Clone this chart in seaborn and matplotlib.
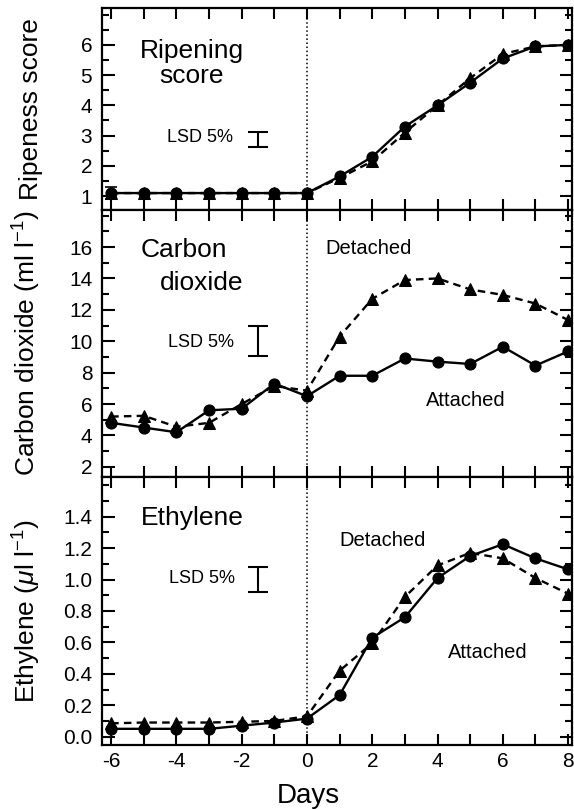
import numpy as np
import pandas as pd
import matplotlib
matplotlib.use("Agg")
import matplotlib.pyplot as plt
from matplotlib.ticker import MultipleLocator, FixedLocator, FuncFormatter
import seaborn as sns

# -------------------------------------------------------------------------
# Data (days relative to harvest/detachment)
# -------------------------------------------------------------------------
days = [-6, -5, -4, -3, -2, -1, 0, 1, 2, 3, 4, 5, 6, 7, 8]

ripe_attached = [1.1, 1.1, 1.1, 1.1, 1.1, 1.1, 1.1, 1.65, 2.3, 3.3, 4.0, 4.75, 5.55, 5.95, 6.0]
ripe_detached = [1.1, 1.1, 1.1, 1.1, 1.1, 1.1, 1.1, 1.6, 2.15, 3.1, 4.0, 4.9, 5.7, 5.95, 6.0]

co2_attached = [4.8, 4.5, 4.2, 5.6, 5.7, 7.3, 6.5, 7.8, 7.8, 8.9, 8.7, 8.55, 9.65, 8.45, 9.35]
co2_detached = [5.2, 5.25, 4.55, 4.8, 6.0, 7.15, 6.85, 10.3, 12.7, 13.9, 14.0, 13.3, 12.95, 12.4, 11.35]

eth_attached = [0.05, 0.05, 0.05, 0.05, 0.07, 0.09, 0.115, 0.265, 0.63, 0.76, 1.01, 1.15, 1.225, 1.135, 1.065]
eth_detached = [0.085, 0.09, 0.09, 0.09, 0.095, 0.1, 0.13, 0.42, 0.595, 0.89, 1.09, 1.17, 1.135, 1.01, 0.91]

# labelled y ticks of each panel
ripe_ticks = [1, 2, 3, 4, 5, 6]
co2_ticks = [2, 4, 6, 8, 10, 12, 14, 16]
eth_ticks = [0.0, 0.2, 0.4, 0.6, 0.8, 1.0, 1.2, 1.4]

# LSD (5%) bars: full length and where they sit
lsd_values = [0.5, 1.9, 0.16]
lsd_centres = [2.87, 10.0, 1.0]
lsd_day = -1.5
first_point_err = 0.2


def long_form(attached, detached):
    return pd.DataFrame({
        'Day': days * 2,
        'Value': attached + detached,
        'Fruit': ['Attached'] * len(days) + ['Detached'] * len(days),
    })


# -------------------------------------------------------------------------
# Style
# -------------------------------------------------------------------------
sns.set_theme(style="ticks")
plt.rcParams['font.family'] = ['Liberation Sans', 'DejaVu Sans']
plt.rcParams['mathtext.fontset'] = 'custom'
plt.rcParams['mathtext.rm'] = 'Liberation Sans'
plt.rcParams['mathtext.it'] = 'Liberation Sans:italic'
plt.rcParams['axes.linewidth'] = 1.6
plt.rcParams['axes.edgecolor'] = 'black'
for key in ['text.color', 'axes.labelcolor', 'xtick.color', 'ytick.color']:
    plt.rcParams[key] = 'black'

fig = plt.figure(figsize=(5.74, 8.09), dpi=100)
W, H = 574.0, 809.0
left, right = 102, 572
panels_px = [(8, 210), (210, 477), (477, 745)]
axes = [fig.add_axes([left / W, 1 - b / H, (right - left) / W, (b - t) / H])
        for t, b in panels_px]

frames = [long_form(ripe_attached, ripe_detached),
          long_form(co2_attached, co2_detached),
          long_form(eth_attached, eth_detached)]

ylims = [(0.54, 7.22), (1.35, 18.36), (-0.053, 1.653)]
yticks = [ripe_ticks, co2_ticks, eth_ticks]
minors = [0.5, 1, 0.1]
fmts = ['{:.0f}', '{:.0f}', '{:.1f}']
ylabels = ['Ripeness score',
           r'Carbon dioxide (ml l$^{-1}$)',
           r'Ethylene ($\mu$l l$^{-1}$)']

for i, (ax, df) in enumerate(zip(axes, frames)):
    sns.lineplot(data=df, x='Day', y='Value', style='Fruit',
                 markers={'Attached': 'o', 'Detached': '^'},
                 dashes={'Attached': '', 'Detached': (3.2, 2.2)},
                 color='black', linewidth=1.7, markersize=8,
                 markeredgecolor='black', legend=False, ax=ax)
    ax.axvline(0, color='black', linestyle=':', linewidth=1.1, zorder=0)

    ax.set_xlim(-6.28, 8.12)
    ax.set_ylim(*ylims[i])
    ax.xaxis.set_major_locator(MultipleLocator(2))
    ax.xaxis.set_minor_locator(MultipleLocator(1))
    ax.yaxis.set_major_locator(FixedLocator(yticks[i]))
    ax.yaxis.set_minor_locator(MultipleLocator(minors[i]))
    ax.yaxis.set_major_formatter(FuncFormatter(lambda v, p, f=fmts[i]: f.format(v)))
    ax.tick_params(which='both', direction='in', top=True, right=True,
                   width=1.5, labelsize=15, pad=7)
    ax.tick_params(axis='x', which='both', length=8)
    ax.tick_params(axis='y', which='major', length=9)
    ax.tick_params(axis='y', which='minor', length=5)
    ax.set_ylabel(ylabels[i], fontsize=19)
    ax.yaxis.set_label_coords(-0.125, 0.5)
    ax.set_xlabel('')
    if i < 2:
        ax.tick_params(axis='x', labelbottom=False)

    # LSD 5% bar
    ax.errorbar(lsd_day, lsd_centres[i], yerr=lsd_values[i] / 2, color='black',
                capsize=7, elinewidth=1.5, capthick=1.5)

axes[2].xaxis.set_major_formatter(FuncFormatter(lambda v, p: f'{v:.0f}'))
axes[2].set_xlabel('Days', fontsize=20)
axes[2].xaxis.set_label_coords(0.438, -0.14)
axes[2].tick_params(axis='x', pad=5)

# small error bar on the first ripening point
axes[0].errorbar(days[0], ripe_attached[0], yerr=first_point_err, color='black',
                 capsize=4, elinewidth=1.2, capthick=1.2)

# annotations
ax1, ax2, ax3 = axes
ax1.text(-3.53, 5.37, 'Ripening\nscore', ha='center', va='center',
         fontsize=19, linespacing=1.05)
ax1.text(-2.27, 2.95, 'LSD 5%', ha='right', va='center', fontsize=13)

ax2.text(-3.77, 15.8, 'Carbon', ha='center', va='center', fontsize=19)
ax2.text(-3.22, 13.7, 'dioxide', ha='center', va='center', fontsize=19)
ax2.text(-2.24, 9.9, 'LSD 5%', ha='right', va='center', fontsize=13)
ax2.text(1.9, 15.9, 'Detached', ha='center', va='center', fontsize=14.5)
ax2.text(4.85, 6.25, 'Attached', ha='center', va='center', fontsize=14.5)

ax3.text(-3.5, 1.395, 'Ethylene', ha='center', va='center', fontsize=19)
ax3.text(-2.2, 1.005, 'LSD 5%', ha='right', va='center', fontsize=13)
ax3.text(2.33, 1.25, 'Detached', ha='center', va='center', fontsize=14.5)
ax3.text(5.55, 0.535, 'Attached', ha='center', va='center', fontsize=14.5)

fig.savefig('out.png', dpi=100)
